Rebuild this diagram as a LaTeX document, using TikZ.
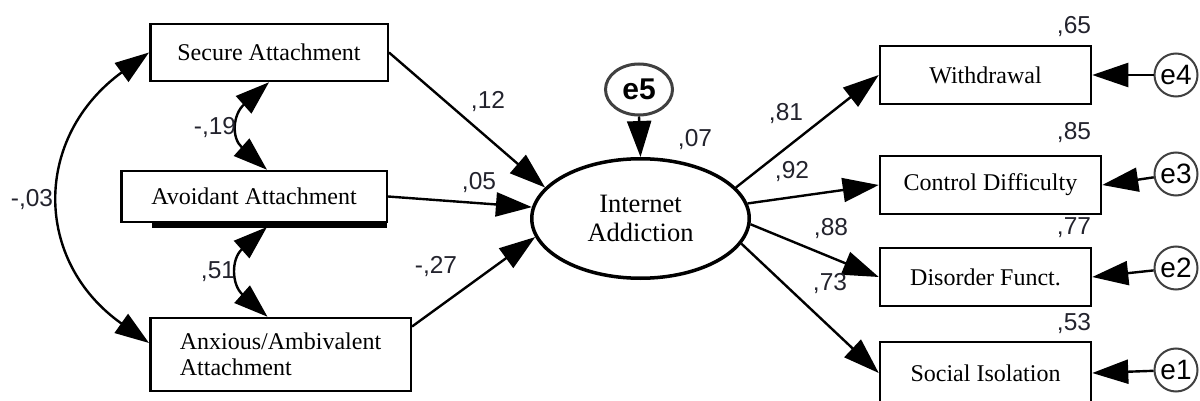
\documentclass[tikz,border=0pt]{standalone}
\usepackage{fontspec}
\setmainfont{Liberation Serif}
\newfontfamily\arialf{Liberation Sans}
\usetikzlibrary{arrows.meta,shapes.geometric,calc}
\definecolor{numc}{RGB}{35,35,45}
\begin{document}
\begin{tikzpicture}[x=1pt,y=-1pt,
  box/.style={draw, line width=2.5pt, inner sep=0pt, font=\fontsize{24}{26}\selectfont},
  num/.style={font=\arialf\fontsize{24.5}{26}\selectfont, text=numc, inner sep=0pt},
  link/.style={line width=2.4pt, -{Triangle[length=36pt,width=24pt]}},
  corr/.style={line width=2.4pt, {Triangle[length=34pt,width=23pt]}-{Triangle[length=34pt,width=23pt]}},
  err/.style={draw=black!75, circle, line width=2pt, inner sep=0pt, minimum size=43pt, font=\arialf\fontsize{28}{28}\selectfont}
]
\useasboundingbox (0,0) rectangle (1200,401);
\fill[white] (0,0) rectangle (1200,401);
\clip (0,0) rectangle (1200,401);

% left boxes
\node[box, minimum width=237.5pt, minimum height=57pt] (sa) at (269,52.5) {Secure Attachment};
\node[box, minimum width=265.5pt, minimum height=51pt] (av) at (254,196.5) {Avoidant Attachment};
\node[box, minimum width=260.5pt, minimum height=73pt, align=left] (aa) at (280.5,354.5) {Anxious/Ambivalent\\Attachment};
\draw[line width=5.5pt] ($(av.south west)+(32,1.5)$) -- ($(av.south east)+(-1,1.5)$);
\coordinate (u51) at (267,227);

% central latent
\node[ellipse, draw, line width=3.5pt, minimum width=217.5pt, minimum height=119.5pt, inner sep=0pt, align=center, font=\fontsize{26.5}{29}\selectfont] (ia) at (640.5,218.5) {Internet\\Addiction};
\node[draw=black!75, ellipse, line width=3pt, minimum width=67pt, minimum height=51pt, inner sep=0pt, font=\arialf\bfseries\fontsize{30}{30}\selectfont] (e5) at (639,89.5) {e5};

% right boxes
\node[box, minimum width=211pt, minimum height=58pt] (wd) at (985.5,75) {Withdrawal};
\node[box, minimum width=221pt, minimum height=58pt] (cd) at (990.5,185) {Control Difficulty};
\node[box, minimum width=211pt, minimum height=58pt] (df) at (985.5,277) {Disorder Funct.};
\node[box, minimum width=211pt, minimum height=62pt] (si) at (985.5,373) {Social Isolation};

% error terms
\node[err] (e4) at (1176,75) {e4};
\node[err] (e3) at (1176,174) {e3};
\node[err] (e2) at (1176,268) {e2};
\node[err] (e1) at (1176,370) {e1};

% regressions
\draw[link] (e5.south) -- (ia.north);
\draw[link] (sa.east) -- (ia.162);
\draw[link] (av.east) -- (ia.174);
\draw[link] (aa.12) -- (ia.190);
\draw[link] (ia.18) -- (wd.west);
\draw[link] (ia.8) -- (cd.west);
\draw[link] (ia.-3) -- (df.west);
\draw[link] (ia.-14) -- (si.west);
\draw[link] (e4) -- (wd.east);
\draw[link] (e3) -- (cd.east);
\draw[link] (e2) -- (df.east);
\draw[link] (e1) -- (si.east);

% correlations
\draw[corr] (sa.west) .. controls (33,137) and (33,261) .. (aa.175);
\draw[corr] (sa.south) .. controls +(-36,32) and +(-36,-32) .. ($(av.north)+(13,0)$);
\draw[corr] (u51) .. controls +(-36,32) and +(-36,-32) .. ($(aa.north)+(-13,0)$);

% labels
\node[num] (l03) at (32,200) {-,03};
\node[num] (l19) at (215,128) {-,19};
\node[num] (l51) at (218,272) {,51};
\node[num] (l12) at (488,102) {,12};
\node[num] (l05) at (479,183) {,05};
\node[num] (l27) at (436,267) {-,27};
\node[num] (l07) at (695,140) {,07};
\node[num] (l81) at (786,114) {,81};
\node[num] (l92) at (792,172) {,92};
\node[num] (l88) at (831,229) {,88};
\node[num] (l73) at (830,284) {,73};
\node[num] (l65) at (1074,27) {,65};
\node[num] (l85) at (1074,133) {,85};
\node[num] (l77) at (1074,228) {,77};
\node[num] (l53) at (1074,324) {,53};
\end{tikzpicture}
\end{document}
